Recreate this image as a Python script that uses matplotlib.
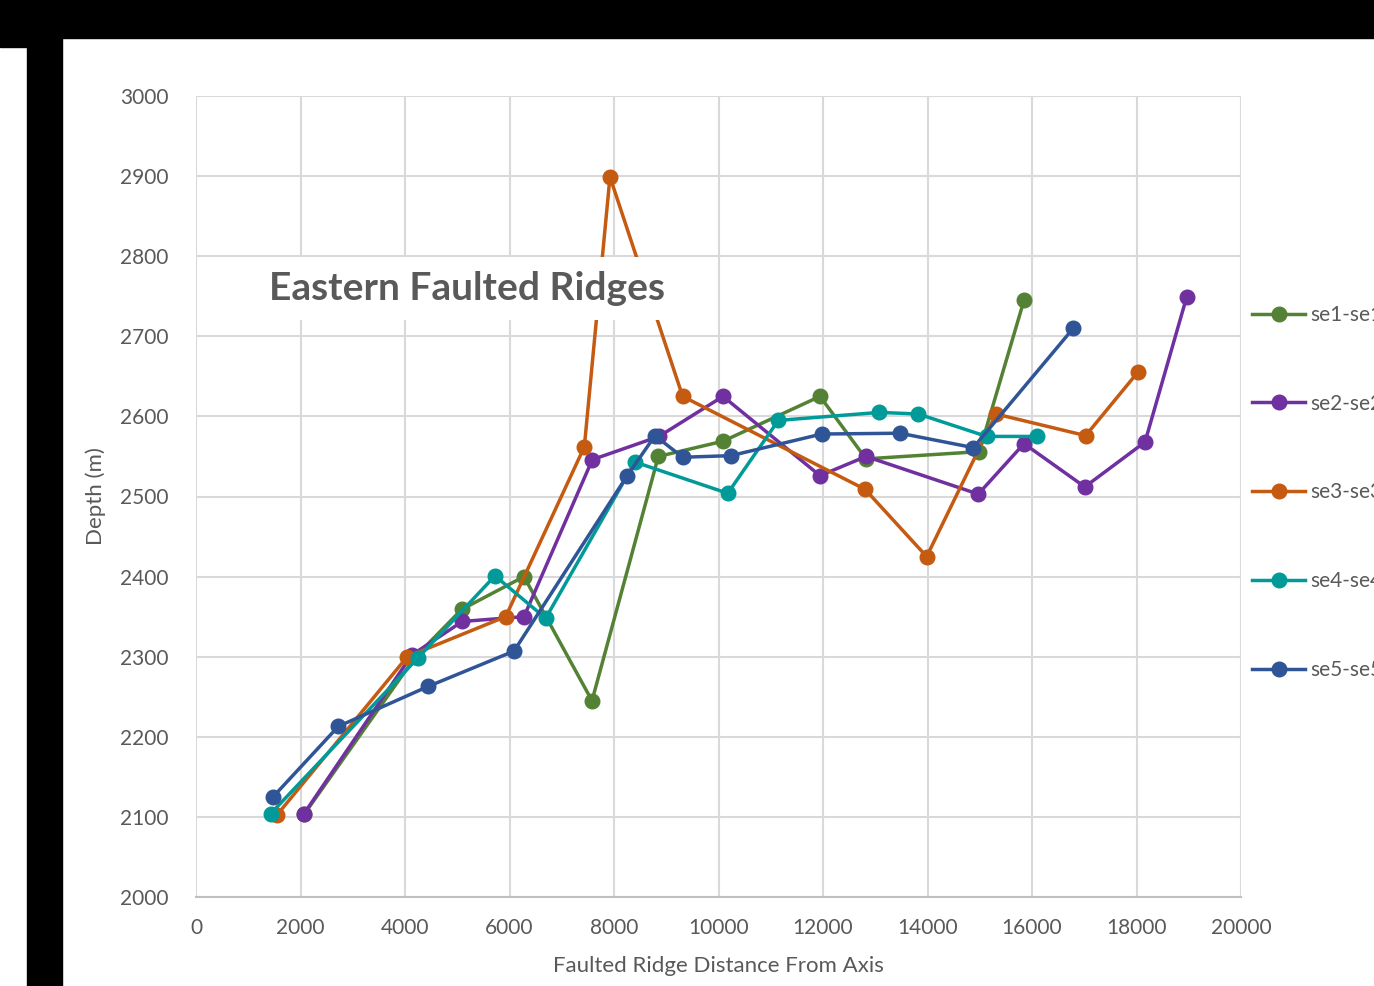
import matplotlib.pyplot as plt
from matplotlib.patches import Rectangle

plt.rcParams['font.family'] = ['Lato', 'DejaVu Sans']

# Data
se1_x = [2067, 4200, 5085, 6277, 7579, 8848, 10086, 11943, 12823, 14992, 15847]
se1_y = [2103, 2300, 2359, 2400, 2245, 2550, 2569, 2625, 2547, 2556, 2745]

se2_x = [2067, 4128, 5097, 6277, 7585, 8861, 10086, 11943, 12823, 14972, 15847, 17011, 18163, 18960]
se2_y = [2104, 2302, 2344, 2350, 2546, 2575, 2625, 2526, 2550, 2503, 2566, 2512, 2568, 2749]

se3_x = [1544, 4044, 5927, 7432, 7923, 9314, 12804, 13984, 15311, 17027, 18023]
se3_y = [2102, 2300, 2350, 2562, 2899, 2625, 2509, 2425, 2603, 2576, 2655]

se4_x = [1429, 4255, 5722, 6692, 8402, 10176, 11145, 13078, 13824, 15132, 16090]
se4_y = [2104, 2299, 2401, 2348, 2543, 2504, 2595, 2605, 2603, 2575, 2575]

se5_x = [1474, 2724, 4447, 6086, 8243, 8785, 9314, 10239, 11975, 13474, 14877, 16790]
se5_y = [2125, 2213, 2263, 2307, 2525, 2576, 2549, 2551, 2578, 2579, 2561, 2710]

labels = ['se1-se1', 'se2-se2', 'se3-se3', 'se4-se4', 'se5-se5']
colors = ['#548235', '#7030A0', '#C55A11', '#009B98', '#2F5597']
xs = [se1_x, se2_x, se3_x, se4_x, se5_x]
ys = [se1_y, se2_y, se3_y, se4_y, se5_y]

W, H = 1374, 986
fig = plt.figure(figsize=(W / 100, H / 100), dpi=100)

# black border strips at top and left
fig.add_artist(Rectangle((0, 1 - 38 / H), 1, 38 / H, transform=fig.transFigure, color='black', zorder=0))
fig.add_artist(Rectangle((27 / W, 0), 35 / W, 1, transform=fig.transFigure, color='black', zorder=0))
fig.add_artist(Rectangle((0, 1 - 47 / H), 27 / W, 9 / H, transform=fig.transFigure, color='black', zorder=0))

ax = fig.add_axes([196 / W, 1 - 897 / H, (1241 - 196) / W, (897 - 96) / H])

for x, y, c, lab in zip(xs, ys, colors, labels):
    ax.plot(x, y, color=c, lw=2.5, marker='o', markersize=10.5, label=lab, solid_joinstyle='round')

ax.set_xlim(0, 20000)
ax.set_ylim(2000, 3000)
ax.set_xticks(range(0, 20001, 2000))
ax.set_yticks(range(2000, 3001, 100))
ax.grid(True, color='#D9D9D9', lw=1.5)
ax.set_axisbelow(True)
for s in ['top', 'right', 'left']:
    ax.spines[s].set_visible(False)
ax.spines['bottom'].set_color('#BFBFBF')
ax.spines['bottom'].set_linewidth(1.5)
ax.tick_params(length=0, labelsize=15, labelcolor='#595959')
ax.tick_params(axis='x', pad=15)
ax.tick_params(axis='y', pad=20)

ax.set_xlabel('Faulted Ridge Distance From Axis', fontsize=16, color='#595959', labelpad=13)
ax.set_ylabel('Depth (m)', fontsize=16, color='#595959', labelpad=10)

# title box inside plot
fig.text(467 / W, 1 - 288 / H, 'Eastern Faulted Ridges', fontsize=28, fontweight='bold',
         color='#595959', ha='center', va='center',
         bbox=dict(facecolor='white', edgecolor='none', pad=10))

# legend sits at the right edge, labels run past the picture edge as in the original
leg = ax.legend(loc='upper left', bbox_to_anchor=(1252 / W, 1 - 305 / H), bbox_transform=fig.transFigure,
                frameon=False, fontsize=15, labelcolor='#595959', handlelength=2.55,
                handletextpad=0.25, labelspacing=3.3, borderaxespad=0, borderpad=0)

fig.savefig('out.png', dpi=100)
